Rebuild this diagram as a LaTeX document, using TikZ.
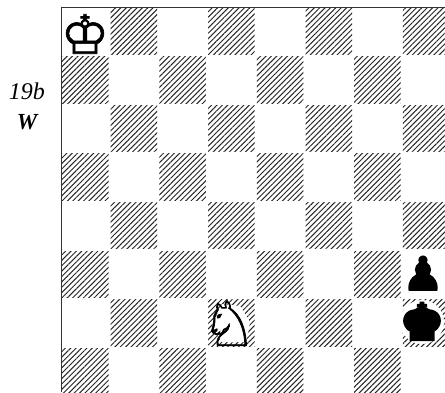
\documentclass[tikz,border=0pt]{standalone}
\usepackage{fontspec}
\setmainfont{Liberation Serif}
\newfontfamily\chessfont{DejaVu Sans}
\newfontfamily\chessbold[FakeBold=1.2]{DejaVu Sans}
\newfontfamily\chessheavy[FakeBold=4]{DejaVu Sans}
\usetikzlibrary{patterns.meta}
\tikzset{
  darksq/.style={pattern={Lines[angle=45,distance=3.8pt,line width=1pt]},pattern color=black!85},
  piece/.style={font=\chessbold\fontsize{54}{54}\selectfont,inner sep=0pt},
  sidelabel/.style={font=\fontsize{24}{24}\selectfont\itshape,inner sep=0pt}
}
\begin{document}
\begin{tikzpicture}[x=1pt,y=-1pt]
\useasboundingbox (0,0) rectangle (445,392);
\clip (0,0) rectangle (445,392);
% board
\foreach \row in {0,...,7}{
  \foreach \col in {0,...,7}{
    \pgfmathparse{int(mod(\row+\col,2))}
    \ifnum\pgfmathresult=1
      \fill[darksq] ({62+48.7*\col},{8+48.6*\row}) rectangle ++(46.5,46.5);
    \fi
  }
}
\draw[line width=.9pt,black!80] (61,392) -- (61,7) -- (445,7);
% side labels
\node[sidelabel] (diagram) at (27,91) {19b};
\node[sidelabel,font=\fontsize{23}{23}\selectfont\bfseries\itshape] (side) at (27,122) {W};
% pieces
\node[piece] (wking) at (85,34) {\symbol{"2654}};
\fill[white] (222,304) -- (212,326) -- (222,342) -- (246,342) -- (250,322) -- (240,306) -- cycle;
\node[piece,font=\chessbold\fontsize{62}{62}\selectfont] (wknight) at (229,323) {\symbol{"2658}};
\node[piece,font=\chessheavy\fontsize{46}{46}\selectfont,text height=30pt,text depth=0pt] (bpawn) at (423,275) {\symbol{"265F}};
\fill[white] (422,322) circle (22);
\fill[black] (422,322) ellipse (14 and 15);
\node[piece,font=\chessheavy\fontsize{51}{51}\selectfont,text height=36pt,text depth=0pt] (bking) at (422,322) {\symbol{"265A}};
\end{tikzpicture}
\end{document}
